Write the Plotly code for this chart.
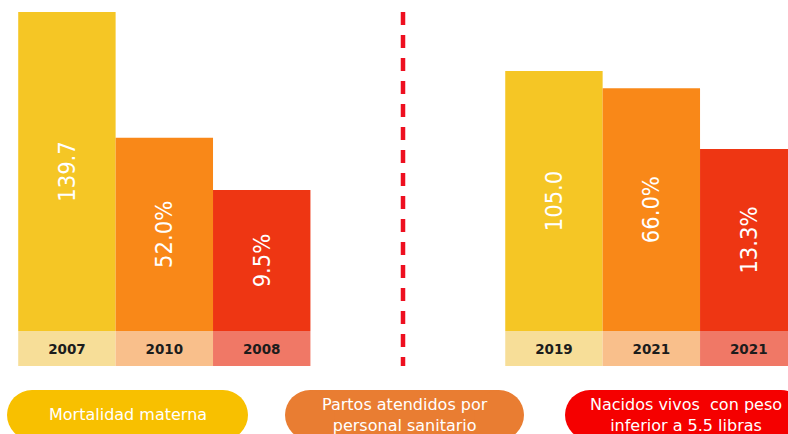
import plotly.graph_objects as go

# ---- data ----
indicators = ["Mortalidad materna",
              "Partos atendidos por<br>personal sanitario",
              "Nacidos vivos  con peso<br>inferior a 5.5 libras"]
years_before = ["2007", "2010", "2008"]
values_before = [139.7, 52.0, 9.5]
years_after = ["2019", "2021", "2021"]
values_after = [105.0, 66.0, 13.3]
value_suffix = ["", "%", "%"]

# ---- styles ----
W, H = 788, 434
PLOT_BOTTOM = 366          # pixel where the plot area ends
BAND_PX = 35               # height of the year band
band_frac = BAND_PX / PLOT_BOTTOM
bar_colors = ["#F5C625", "#F98818", "#EE3613"]
band_colors = ["#F7DE98", "#F9BF8B", "#F07866"]
pill_colors = ["#F8C000", "#E97D32", "#F50000"]
# each indicator gets its own value scale (hidden axis)
axis_ranges = [[-68.52, 146.74], [-12.69, 91.02], [-6.81, 27.11]]
group_slot = [0, 5]        # first slot of each period group

fig = go.Figure()
axis_names = ["y", "y2", "y3"]
for k in range(3):
    lo, hi = axis_ranges[k]
    base = lo + band_frac * (hi - lo)
    xs = [group_slot[0] + k, group_slot[1] + k]
    vals = [values_before[k], values_after[k]]
    fig.add_trace(go.Bar(
        x=xs, y=[v - base for v in vals], base=base, width=1,
        yaxis=axis_names[k],
        marker=dict(color=bar_colors[k], line=dict(width=0)),
        text=[f"{v:.1f}{value_suffix[k]}" for v in vals],
        textposition="inside", insidetextanchor="middle", textangle=-90,
        constraintext="none",
        textfont=dict(family="Liberation Sans Narrow, DejaVu Sans Condensed, Roboto",
                      size=23.5, color="white"),
        hoverinfo="skip", showlegend=False,
    ))

# year band
band_x = [group_slot[g] + k for g in range(2) for k in range(3)]
band_text = years_before + years_after
band_col = band_colors + band_colors
fig.add_trace(go.Bar(
    x=band_x, y=[band_frac] * 6, base=0, width=1, yaxis="y4",
    marker=dict(color=band_col, line=dict(width=0)),
    text=band_text, textposition="inside", insidetextanchor="middle",
    textangle=0, constraintext="none",
    textfont=dict(family="DejaVu Sans", size=13.5, color="#1c1c1c", weight="bold"),
    hoverinfo="skip", showlegend=False,
))

def py(p):  # pixel y -> paper y
    return (PLOT_BOTTOM - p) / PLOT_BOTTOM

def px(p):
    return p / W

shapes = []
# dashed separator
shapes.append(dict(type="line", xref="paper", yref="paper",
                   x0=px(403), x1=px(403), y0=py(12), y1=py(366),
                   line=dict(color="#EE1020", width=4.5, dash="13px,10px")))

# pills
pill_x = [(7, 248), (285, 524), (565, 806)]
pill_top, pill_bot = 390, 440
r = (pill_bot - pill_top) / 2
annotations = []
for k, (a, b) in enumerate(pill_x):
    c = pill_colors[k]
    shapes.append(dict(type="rect", xref="paper", yref="paper",
                       x0=px(a + r), x1=px(b - r), y0=py(pill_bot), y1=py(pill_top),
                       fillcolor=c, line=dict(width=0), layer="above"))
    for cx in (a + r, b - r):
        shapes.append(dict(type="circle", xref="paper", yref="paper",
                           x0=px(cx - r), x1=px(cx + r), y0=py(pill_bot), y1=py(pill_top),
                           fillcolor=c, line=dict(width=0), layer="above"))
    annotations.append(dict(text=indicators[k], xref="paper", yref="paper",
                            x=px((a + b) / 2), y=py(414.5), xanchor="center",
                            yanchor="middle", showarrow=False, align="center",
                            font=dict(family="DejaVu Sans", size=16, color="white")))

layout_axes = {}
for k, name in enumerate(["yaxis", "yaxis2", "yaxis3"]):
    ax = dict(range=axis_ranges[k], visible=False, fixedrange=True)
    if k > 0:
        ax["overlaying"] = "y"
    layout_axes[name] = ax
layout_axes["yaxis4"] = dict(range=[0, 1], visible=False, overlaying="y")

fig.update_layout(
    width=W, height=H,
    margin=dict(l=0, r=0, t=0, b=H - PLOT_BOTTOM, pad=0),
    paper_bgcolor="white", plot_bgcolor="white",
    barmode="overlay",
    xaxis=dict(range=[-0.687, 7.403], visible=False, fixedrange=True),
    shapes=shapes, annotations=annotations,
    showlegend=False,
    **layout_axes,
)

fig.write_html("out.html", config={"displayModeBar": False},
               post_script="document.body.style.margin='0';document.body.style.overflow='hidden';")
